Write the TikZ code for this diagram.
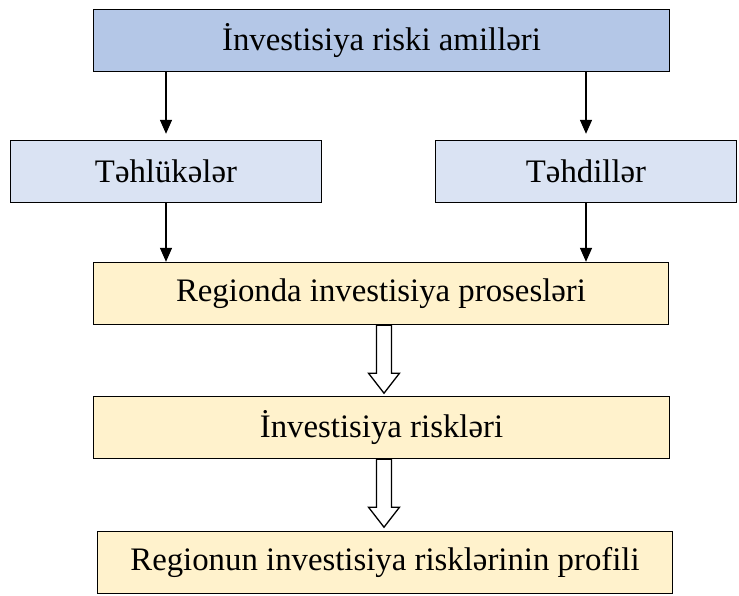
\documentclass[tikz,border=0pt]{standalone}
\usepackage{fontspec}
\setmainfont{Liberation Serif}
\usetikzlibrary{arrows.meta, calc}

\definecolor{topblue}{RGB}{180,199,231}
\definecolor{paleblue}{RGB}{218,227,243}
\definecolor{paleyellow}{RGB}{255,242,204}

\tikzset{
    box/.style={draw, line width=1.4pt, minimum height=62pt, inner sep=0pt,
        font=\fontsize{32.8}{38}\selectfont},
    flow/.style={line width=1.4pt, -{Triangle[length=14pt, width=12pt]}},
    hollow/.style={draw, fill=white, line width=1.3pt, line join=miter}
}

\begin{document}
\begin{tikzpicture}[x=1pt, y=-1pt]
        \useasboundingbox (0,0) rectangle (739,595);

        \node[box, fill=topblue, minimum width=576pt] (amil) at (381.5, 40.5) {İnvestisiya riski amilləri};
        \node[box, fill=paleblue, minimum width=311pt] (tehluke) at (166, 171.5) {Təhlükələr};
        \node[box, fill=paleblue, minimum width=301pt] (tehdid) at (586, 171.5) {Təhdillər};
        \node[box, fill=paleyellow, minimum width=575pt] (proses) at (381, 293.5) {Regionda investisiya prosesləri};
        \node[box, fill=paleyellow, minimum width=576pt] (risk) at (381.5, 427.5) {İnvestisiya riskləri};
        \node[box, fill=paleyellow, minimum width=575pt] (profil) at (385, 562.5) {Regionun investisiya risklərinin profili};

        \draw[flow] (amil.south -| tehluke) -- ($(tehluke.north)+(0,-6)$);
        \draw[flow] (amil.south -| tehdid) -- ($(tehdid.north)+(0,-6)$);
        \draw[flow] (tehluke.south) -- (tehluke.south |- proses.north);
        \draw[flow] (tehdid.south) -- (tehdid.south |- proses.north);

        % hollow arrows
        \coordinate (ax) at (384, 0);
        \foreach \a in {proses, risk}{
            \draw[hollow] (\a.south -| ax) ++(-7.5,0) -- ++(0,48) -- ++(-8,0)
                -- ++(15.5,20) -- ++(15.5,-20) -- ++(-8,0) -- ++(0,-48) -- cycle;
        }
    \end{tikzpicture}
\end{document}
